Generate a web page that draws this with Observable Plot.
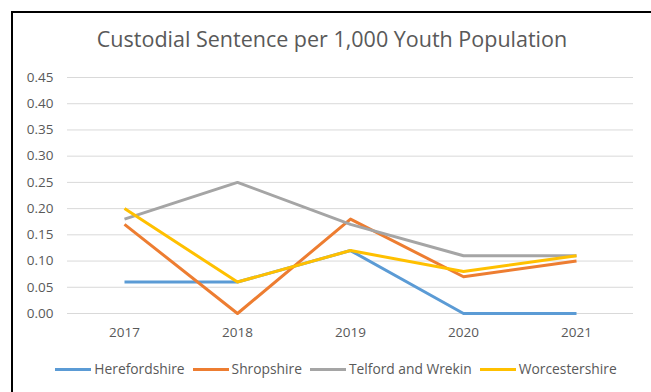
<!DOCTYPE html>
<html>
<head>
<meta charset="utf-8">
<script src="https://cdn.jsdelivr.net/npm/d3@7"></script>
<script src="https://cdn.jsdelivr.net/npm/@observablehq/plot@0.6"></script>
<style>
  body { margin: 0; background: #fff; font-family: "Open Sans", sans-serif; }
  #chart { position: relative; width: 651px; height: 392px; overflow: hidden; background: #fff; }
  #frame { position: absolute; left: 11px; top: 11px; width: 640px; height: 400px;
           border-top: 2px solid #000; border-left: 2px solid #000; box-sizing: border-box; }
  #title { position: absolute; left: 0; top: 28px; width: 664px; text-align: center;
           font-size: 21.5px; line-height: 22px; color: #595959; white-space: nowrap; }
  #plot { position: absolute; left: 0; top: 0; }
  #legend { position: absolute; left: 0; top: 361px; width: 672px; display: flex;
            justify-content: center; align-items: center; gap: 8px;
            font-size: 13.8px; line-height: 16px; color: #595959; white-space: nowrap; }
  .item { display: flex; align-items: center; gap: 3px; }
  .swatch { width: 36px; height: 3px; }
</style>
</head>
<body>
<div id="chart">
  <div id="frame"></div>
  <div id="title">Custodial Sentence per 1,000 Youth Population</div>
  <div id="plot"></div>
  <div id="legend"></div>
</div>
<script>
// Years on the x axis
const years = ["2017", "2018", "2019", "2020", "2021"];

// Custodial sentences per 1,000 youth population, by local authority
const herefordshire  = [0.06, 0.06, 0.12, 0.00, 0.00];
const shropshire     = [0.17, 0.00, 0.18, 0.07, 0.10];
const telfordWrekin  = [0.18, 0.25, 0.17, 0.11, 0.11];
const worcestershire = [0.20, 0.06, 0.12, 0.08, 0.11];

const seriesNames  = ["Herefordshire", "Shropshire", "Telford and Wrekin", "Worcestershire"];
const seriesValues = [herefordshire, shropshire, telfordWrekin, worcestershire];
const seriesColors = ["#5B9BD5", "#ED7D31", "#A5A5A5", "#FFC000"];

// Value axis ticks
const yTicks = [0, 0.05, 0.10, 0.15, 0.20, 0.25, 0.30, 0.35, 0.40, 0.45];

const rows = seriesNames.flatMap((name, i) =>
  years.map((year, j) => ({ series: name, year, value: seriesValues[i][j] }))
);

const chart = Plot.plot({
  width: 651,
  height: 345,
  marginTop: 77,
  marginBottom: 32,
  marginLeft: 67,
  marginRight: 18,
  style: { fontFamily: "'Open Sans', sans-serif", fontSize: "13.5px", color: "#595959", background: "transparent" },
  x: { type: "point", domain: years, padding: 0.5, label: null, tickSize: 0, tickPadding: 14 },
  y: { domain: [0, 0.45], ticks: yTicks, tickFormat: d3.format(".2f"), label: null, tickSize: 0, tickPadding: 14 },
  color: { domain: seriesNames, range: seriesColors },
  marks: [
    Plot.ruleY(yTicks, { stroke: "#D9D9D9", strokeWidth: 1 }),
    Plot.line(rows, {
      x: "year", y: "value", stroke: "series", z: "series",
      strokeWidth: 3, strokeLinejoin: "round", strokeLinecap: "butt"
    })
  ]
});
document.getElementById("plot").appendChild(chart);

// Legend below the plot
const legend = document.getElementById("legend");
seriesNames.forEach((name, i) => {
  const item = document.createElement("div");
  item.className = "item";
  const sw = document.createElement("span");
  sw.className = "swatch";
  sw.style.background = seriesColors[i];
  const label = document.createElement("span");
  label.textContent = name;
  item.appendChild(sw);
  item.appendChild(label);
  legend.appendChild(item);
});
</script>
</body>
</html>
